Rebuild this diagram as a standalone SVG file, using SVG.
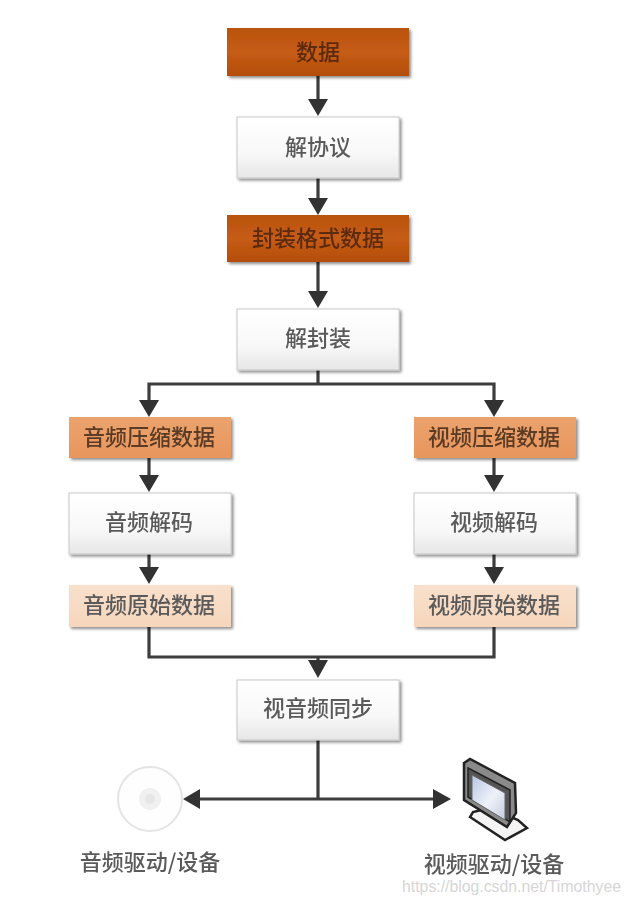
<svg xmlns="http://www.w3.org/2000/svg" width="630" height="904" viewBox="0 0 630 904">
<style>
.t{font-family:"Noto Sans CJK SC","Noto Sans",sans-serif;font-size:22px;font-weight:500;text-anchor:middle;fill:#5a5a5a}
.d{fill:#5c2a0c}.o{fill:#5a3a25}
.c{fill:none;stroke:#3c3c3c;stroke-width:3.2}
.a{fill:#333}
.b{stroke:#c8c8c8;stroke-width:1}
</style>
<defs>
<linearGradient id="w" x1="0" y1="0" x2="0" y2="1"><stop offset="0" stop-color="#ffffff"/><stop offset=".6" stop-color="#f8f8f8"/><stop offset="1" stop-color="#e6e6e6"/></linearGradient>
<linearGradient id="dk" x1="0" y1="0" x2="0" y2="1"><stop offset="0" stop-color="#b9530f"/><stop offset=".5" stop-color="#c65c14"/><stop offset="1" stop-color="#b34d0c"/></linearGradient>
<linearGradient id="md" x1="0" y1="0" x2="0" y2="1"><stop offset="0" stop-color="#eba36e"/><stop offset="1" stop-color="#e8965c"/></linearGradient>
<linearGradient id="lt" x1="0" y1="0" x2="0" y2="1"><stop offset="0" stop-color="#f8e0cc"/><stop offset="1" stop-color="#f6d6bc"/></linearGradient>
<linearGradient id="sc" x1="0" y1="0" x2="1" y2="1"><stop offset="0" stop-color="#b8c6e4"/><stop offset=".55" stop-color="#eef1f8"/><stop offset="1" stop-color="#c4cce0"/></linearGradient>
<filter id="s" x="-5%" y="-10%" width="112%" height="125%"><feGaussianBlur in="SourceAlpha" stdDeviation="1.5"/><feOffset dx="2" dy="2"/><feComponentTransfer><feFuncA type="linear" slope=".45"/></feComponentTransfer><feMerge><feMergeNode/><feMergeNode in="SourceGraphic"/></feMerge></filter>
<filter id="f"><feGaussianBlur stdDeviation=".6"/></filter>
<filter id="x" x="-5%" y="-20%" width="110%" height="140%"><feGaussianBlur stdDeviation=".5"/></filter>
</defs>
<rect width="630" height="904" fill="#fff"/>
<g id="connectors" filter="url(#f)">
<path class="c" d="M318 76V102M318 178V201M318 262V294M318 370V384M149 403V384H494V403M149 458V478M149 554V570M149 627V657H494V627M494 458V478M494 554V570M318 657V666M318 740V799M198 799H436"/>
<path class="a" d="M308 99H328L318 116ZM308 198H328L318 215ZM308 291H328L318 308ZM139 400H159L149 417ZM484 400H504L494 417ZM139 475H159L149 492ZM484 475H504L494 492ZM139 567H159L149 584ZM484 567H504L494 584ZM308 660H328L318 678ZM200 789V809L183 799ZM433 789V809L451 799Z"/>
</g>
<g id="n1"><rect x="227" y="28" width="182" height="48" fill="url(#dk)" filter="url(#s)"/><text class="t d" x="318" y="60" filter="url(#x)">数据</text></g>
<g id="n2"><rect class="b" x="237" y="117" width="162" height="61" fill="url(#w)" filter="url(#s)"/><text class="t" x="318" y="155" filter="url(#x)">解协议</text></g>
<g id="n3"><rect x="227" y="215" width="182" height="47" fill="url(#dk)" filter="url(#s)"/><text class="t d" x="318" y="246" filter="url(#x)">封装格式数据</text></g>
<g id="n4"><rect class="b" x="237" y="309" width="162" height="61" fill="url(#w)" filter="url(#s)"/><text class="t" x="318" y="346" filter="url(#x)">解封装</text></g>
<g id="n5"><rect x="69" y="417" width="162" height="41" fill="url(#md)" filter="url(#s)"/><text class="t o" x="149" y="445" filter="url(#x)">音频压缩数据</text></g>
<g id="n6"><rect class="b" x="69" y="493" width="162" height="61" fill="url(#w)" filter="url(#s)"/><text class="t" x="149" y="530" filter="url(#x)">音频解码</text></g>
<g id="n7"><rect x="69" y="585" width="162" height="42" fill="url(#lt)" filter="url(#s)"/><text class="t" x="149" y="613" filter="url(#x)">音频原始数据</text></g>
<g id="n8"><rect x="414" y="417" width="162" height="41" fill="url(#md)" filter="url(#s)"/><text class="t o" x="494" y="445" filter="url(#x)">视频压缩数据</text></g>
<g id="n9"><rect class="b" x="414" y="493" width="162" height="61" fill="url(#w)" filter="url(#s)"/><text class="t" x="494" y="530" filter="url(#x)">视频解码</text></g>
<g id="n10"><rect x="414" y="585" width="162" height="42" fill="url(#lt)" filter="url(#s)"/><text class="t" x="494" y="613" filter="url(#x)">视频原始数据</text></g>
<g id="n11"><rect class="b" x="237" y="680" width="162" height="60" fill="url(#w)" filter="url(#s)"/><text class="t" x="318" y="716" filter="url(#x)">视音频同步</text></g>
<g id="n12">
<g filter="url(#f)"><circle cx="150" cy="799" r="32" fill="#fefefe" stroke="#e4e4e4" stroke-width="2"/><circle cx="150" cy="799" r="11" fill="#f0f0f0"/><circle cx="150" cy="799" r="5" fill="#e6e6e6"/></g>
<text class="t" x="150" y="870" filter="url(#x)">音频驱动/设备</text></g>
<g id="n13">
<g filter="url(#f)">
<path d="M470 817L505 840L527 828L518 820L490 808L473 812Z" fill="#f4f4f4" stroke="#222" stroke-width="2.5"/>
<path d="M464 763L470 759L515 783L516 813L507 827L464 800Z" fill="#8a8a8a" stroke="#222" stroke-width="2.5"/>
<path d="M468 768L510 790L510 822L468 797Z" fill="#555" stroke="#222" stroke-width="1.5"/>
<path d="M472 775L505 793L505 820L472 800Z" fill="url(#sc)" stroke="#666"/>
</g>
<text class="t" x="494" y="872" filter="url(#x)">视频驱动/设备</text></g>
<text x="511.500" y="892" font-family="Liberation Sans,sans-serif" font-size="15.8" text-anchor="middle" fill="#d6d6d6">https://blog.csdn.net/Timothyee</text>
</svg>
